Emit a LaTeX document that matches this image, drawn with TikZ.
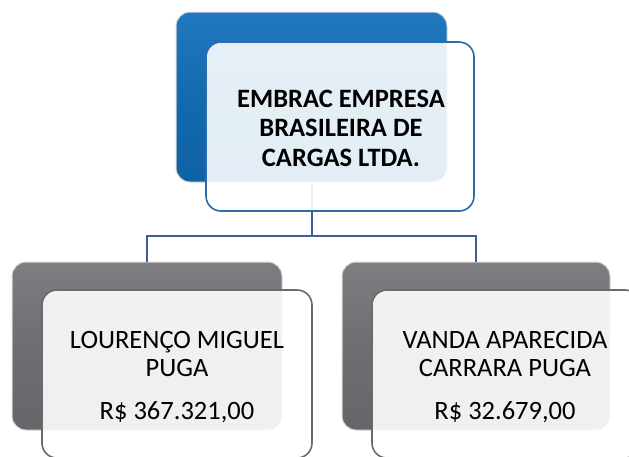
\documentclass[tikz,border=0pt]{standalone}
\usepackage{fontspec}
\setmainfont{Carlito}
\definecolor{bluetop}{HTML}{2278C0}
\definecolor{bluemid}{HTML}{136AAE}
\definecolor{bluebot}{HTML}{0F62A4}
\definecolor{greytop}{HTML}{7E7E82}
\definecolor{greymid}{HTML}{6E6E72}
\definecolor{greybot}{HTML}{66666A}
\definecolor{fronttopline}{HTML}{2A6CA8}
\definecolor{frontbotline}{HTML}{6A6A6A}
\definecolor{connline}{HTML}{3B5EA0}
\tikzset{
  backblue/.style={rectangle, rounded corners=14pt, inner sep=0pt,
    top color=bluetop, bottom color=bluebot, middle color=bluemid,
    draw=black!15, line width=1pt},
  backgrey/.style={rectangle, rounded corners=14pt, inner sep=0pt,
    top color=greytop, bottom color=greybot, middle color=greymid,
    draw=black!15, line width=1pt},
  frontblue/.style={rectangle, rounded corners=15pt, inner sep=0pt,
    fill=white, fill opacity=0.89, draw=fronttopline, draw opacity=1, line width=1.6pt},
  frontgrey/.style={rectangle, rounded corners=15pt, inner sep=0pt,
    fill=white, fill opacity=0.9, draw=frontbotline, draw opacity=1, line width=1.6pt},
  conn/.style={draw=connline, line width=2pt},
  toptext/.style={font=\fontsize{26.5}{29.5}\selectfont\bfseries, align=center, text=black},
  bottext/.style={font=\fontsize{26.5}{28.5}\selectfont, align=center, text=black},
}
\begin{document}
\begin{tikzpicture}[x=1pt,y=-1pt]
\useasboundingbox (0,0) rectangle (629,456);
\clip (0,0) rectangle (629,456);
% back boxes
\node[backblue, minimum width=271pt, minimum height=170pt] (tb) at (311.5,97) {};
\node[backgrey, minimum width=270pt, minimum height=168pt] (lb) at (147,346) {};
\node[backgrey, minimum width=268pt, minimum height=168pt] (rb) at (476,346) {};
% connectors
\coordinate (j) at (311.5,236);
\draw[conn] (tb.south) -- (j);
\draw[conn] (j) -| (lb.north);
\draw[conn] (j) -| (rb.north);
% front boxes
\node[frontblue, minimum width=268pt, minimum height=169pt] (tf) at (340,126.5) {};
\node[frontgrey, minimum width=270pt, minimum height=168pt] (lf) at (177,374) {};
\node[frontgrey, minimum width=268pt, minimum height=168pt] (rf) at (506,374) {};
% texts
\node[toptext] (tt) at (341,128) {EMBRAC EMPRESA\\BRASILEIRA DE\\CARGAS LTDA.};
\node[bottext] (lt) at (177,377) {LOURENÇO MIGUEL\\PUGA\\[14pt]R\$ 367.321,00};
\node[bottext] (rt) at (505,377) {VANDA APARECIDA\\CARRARA PUGA\\[14pt]R\$ 32.679,00};
\end{tikzpicture}
\end{document}
